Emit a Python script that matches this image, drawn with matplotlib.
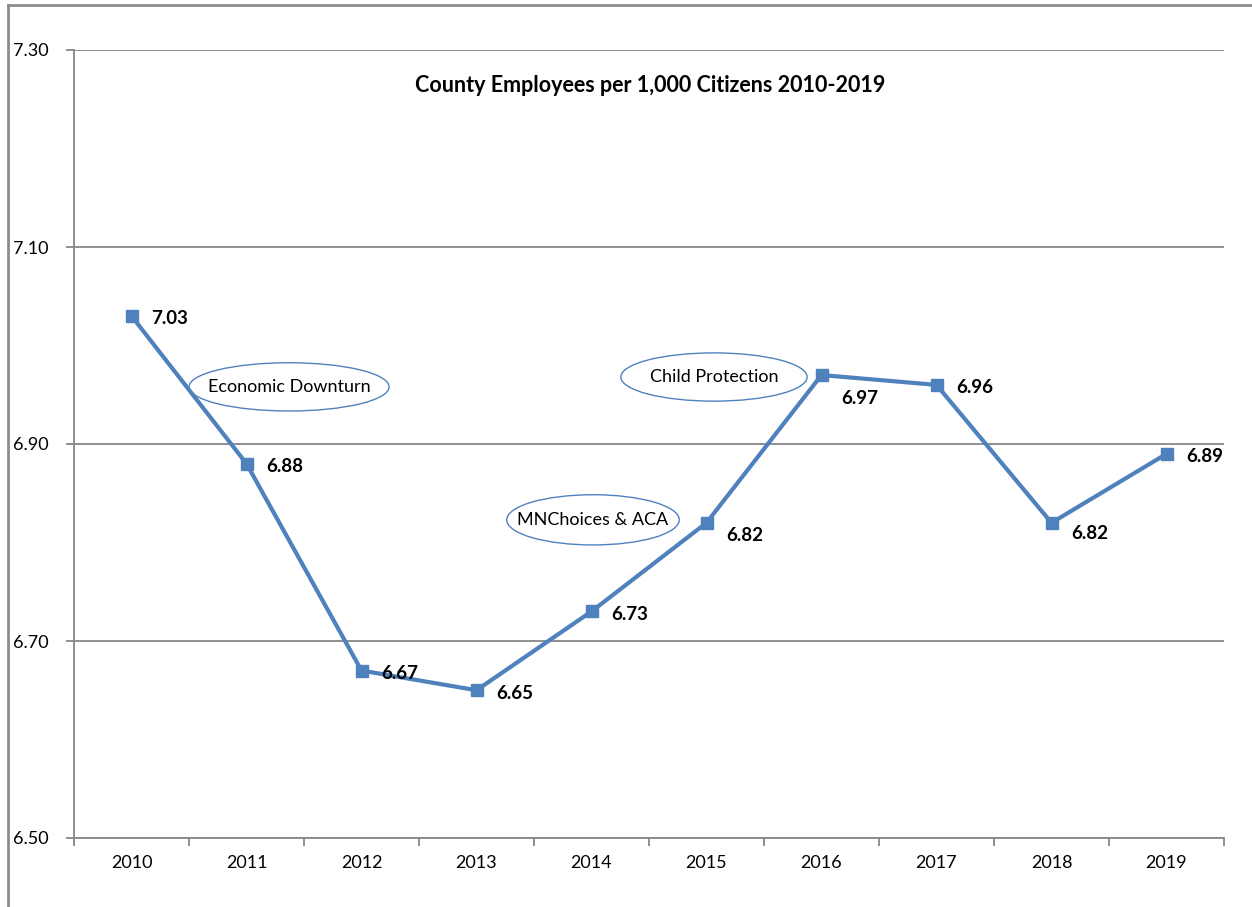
import matplotlib.pyplot as plt
from matplotlib.patches import Ellipse
from matplotlib.lines import Line2D

plt.rcParams['font.family'] = ['Lato', 'DejaVu Sans']

years = ['2010', '2011', '2012', '2013', '2014', '2015', '2016', '2017', '2018', '2019']
per_1000 = [7.03, 6.88, 6.67, 6.65, 6.73, 6.82, 6.97, 6.96, 6.82, 6.89]
y_ticks = [6.50, 6.70, 6.90, 7.10, 7.30]
callouts = ['Economic Downturn', 'Child Protection', 'MNChoices & ACA']
title = 'County Employees per 1,000 Citizens 2010-2019'

BLUE = '#4F81BD'
GRAY = '#878787'

fig = plt.figure(figsize=(12.52, 9.07), dpi=100)
ax = fig.add_axes([74 / 1252, 1 - 838 / 907, 1150 / 1252, 788 / 907])

x = list(range(len(years)))
ax.plot(x, per_1000, color=BLUE, lw=3, marker='s', ms=9, zorder=3)

# value labels sit to the right of each point; a few are nudged down
drop = {5: 7, 6: 15, 8: 6}
for i, v in enumerate(per_1000):
    ax.annotate(f'{v:.2f}', (i, v), xytext=(14, -2 - drop.get(i, 0)),
                textcoords='offset points', ha='left', va='center',
                fontsize=13.5, fontweight='bold', color='black', zorder=4)

# callout ellipses (centre x, centre y, width, height) in data units
shapes = [(1.37, 6.958, 1.74, 0.049), (5.065, 6.968, 1.62, 0.049), (4.013, 6.823, 1.50, 0.051)]
for label, (cx, cy, w, h) in zip(callouts, shapes):
    ax.add_patch(Ellipse((cx, cy), w, h, fill=False, edgecolor=BLUE, lw=1.0, zorder=2))
    ax.text(cx, cy, label, ha='center', va='center', fontsize=13, zorder=4)

ax.set_xlim(-0.5, len(years) - 0.5)
ax.set_ylim(y_ticks[0], y_ticks[-1])

# category axis: ticks between categories, labels at centres
ax.set_xticks([i - 0.5 for i in range(len(years) + 1)])
ax.set_xticklabels([])
ax.set_xticks(x, minor=True)
ax.set_xticklabels(years, minor=True, fontsize=13)
ax.tick_params(axis='x', which='major', length=6, color=GRAY, width=1.3)
ax.tick_params(axis='x', which='minor', length=0, pad=12)

ax.set_yticks(y_ticks)
ax.set_yticklabels([f'{t:.2f}' for t in y_ticks], fontsize=13)
ax.tick_params(axis='y', length=6, color=GRAY, width=1.3, pad=12)

ax.grid(axis='y', color=GRAY, lw=1.3)
ax.set_axisbelow(True)
for s in ['top', 'right']:
    ax.spines[s].set_visible(False)
for s in ['left', 'bottom']:
    ax.spines[s].set_color(GRAY)
    ax.spines[s].set_linewidth(1.3)

fig.text(650 / 1252, 1 - 85 / 907, title, ha='center', va='center',
         fontsize=15.5, fontweight='bold')

# outer chart frame (left and top edges)
fig.add_artist(Line2D([8 / 1252, 8 / 1252], [0, 1 - 5 / 907], color='#8c8c8c', lw=2))
fig.add_artist(Line2D([8 / 1252, 1], [1 - 5 / 907, 1 - 5 / 907], color='#8c8c8c', lw=2))

fig.savefig('out.png', dpi=100)
